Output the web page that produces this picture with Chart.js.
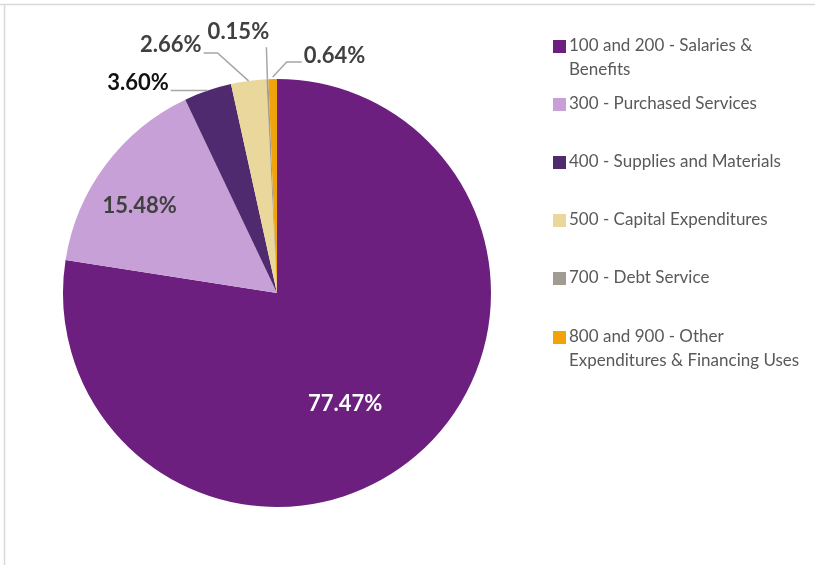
<!DOCTYPE html>
<html>
<head>
<meta charset="utf-8">
<script src="https://cdn.jsdelivr.net/npm/chart.js@4.4.1/dist/chart.umd.min.js"></script>
<style>
html,body{margin:0;padding:0;background:#fff;}
#wrap{position:relative;width:815px;height:565px;}
</style>
</head>
<body>
<div id="wrap"><canvas id="c" width="815" height="565"></canvas></div>
<script>
// ---- data ----
const categories = [
  ["100 and 200 - Salaries &", "Benefits"],
  ["300 - Purchased Services"],
  ["400 - Supplies and Materials"],
  ["500 - Capital Expenditures"],
  ["700 - Debt Service"],
  ["800 and 900 - Other", "Expenditures & Financing Uses"]
];
const values = [77.47, 15.48, 3.60, 2.66, 0.15, 0.64];
const valueLabels = ["77.47%", "15.48%", "3.60%", "2.66%", "0.15%", "0.64%"];

// ---- styles ----
const colors = ["#6D1F80", "#C8A0D8", "#4F2A6E", "#EAD79C", "#A19B91", "#F0A30A"];
const FONT = "Lato, 'Open Sans', sans-serif";
const labelStyle = [
  {mode:"inside", frac:0.61, angle:148.5, color:"#ffffff"},
  {mode:"inside", frac:0.76, angle:302.4, color:"#404040"},
  {mode:"outside", leader:[[0,0],[-37,0]], text:[-39,-8], align:"right", color:"#111111"},
  {mode:"outside", leader:[[0,0],[-31,-28],[-45,-28]], text:[-47,-36], align:"right", color:"#404040"},
  {mode:"outside", leader:[[0,0],[-1,-32]], text:[-29,-47], align:"center", color:"#404040"},
  {mode:"outside", leader:[[0,-2],[14,-17],[29,-17]], text:[31,-23], align:"left", color:"#404040"}
];
const legendItemY = [46, 104, 162, 220, 278, 337];

const labelPlugin = {
  id: "labels",
  afterDatasetsDraw(chart) {
    const ctx = chart.ctx;
    const meta = chart.getDatasetMeta(0);
    ctx.save();
    ctx.font = "bold 22px " + FONT;
    ctx.textBaseline = "middle";
    meta.data.forEach((arc, i) => {
      const st = labelStyle[i];
      const cx = arc.x, cy = arc.y, r = arc.outerRadius;
      if (st.mode === "inside") {
        const a = st.angle * Math.PI / 180;
        ctx.fillStyle = st.color;
        ctx.textAlign = "center";
        ctx.fillText(valueLabels[i], cx + r*st.frac*Math.sin(a), cy - r*st.frac*Math.cos(a));
      } else {
        const mid = (arc.startAngle + arc.endAngle) / 2;
        const ex = cx + r*Math.cos(mid), ey = cy + r*Math.sin(mid);
        ctx.strokeStyle = "#a6a6a6";
        ctx.lineWidth = 1.5;
        ctx.beginPath();
        st.leader.forEach((p, k) => {
          if (k === 0) ctx.moveTo(ex+p[0], ey+p[1]); else ctx.lineTo(ex+p[0], ey+p[1]);
        });
        ctx.stroke();
        ctx.fillStyle = st.color;
        ctx.textAlign = st.align;
        ctx.fillText(valueLabels[i], ex + st.text[0], ey + st.text[1]);
      }
    });
    ctx.restore();
  }
};

const legendPlugin = {
  id: "customLegend",
  afterDraw(chart) {
    const ctx = chart.ctx;
    ctx.save();
    ctx.font = "17px " + FONT;
    ctx.textBaseline = "middle";
    ctx.textAlign = "left";
    categories.forEach((lines, i) => {
      const y = legendItemY[i];
      ctx.fillStyle = colors[i];
      ctx.fillRect(553, y - 6, 13, 13);
      ctx.fillStyle = "#595959";
      lines.forEach((t, k) => ctx.fillText(t, 569, y + k*24));
    });
    ctx.restore();
  }
};

const framePlugin = {
  id: "frame",
  beforeDraw(chart) {
    const ctx = chart.ctx;
    ctx.save();
    ctx.fillStyle = "#fff";
    ctx.fillRect(0, 0, chart.width, chart.height);
    ctx.strokeStyle = "#d9d9d9";
    ctx.lineWidth = 1.5;
    ctx.beginPath();
    ctx.moveTo(0, 4.5); ctx.lineTo(815, 4.5);
    ctx.moveTo(4.5, 4.5); ctx.lineTo(4.5, 565);
    ctx.stroke();
    ctx.restore();
  }
};

new Chart(document.getElementById("c"), {
  type: "pie",
  data: {
    labels: categories,
    datasets: [{ data: values, backgroundColor: colors, borderWidth: 0 }]
  },
  options: {
    responsive: false,
    animation: false,
    layout: { padding: { left: 63, top: 79, right: 324, bottom: 58 } },
    plugins: { legend: { display: false }, tooltip: { enabled: false } }
  },
  plugins: [framePlugin, labelPlugin, legendPlugin]
});
</script>
</body>
</html>
